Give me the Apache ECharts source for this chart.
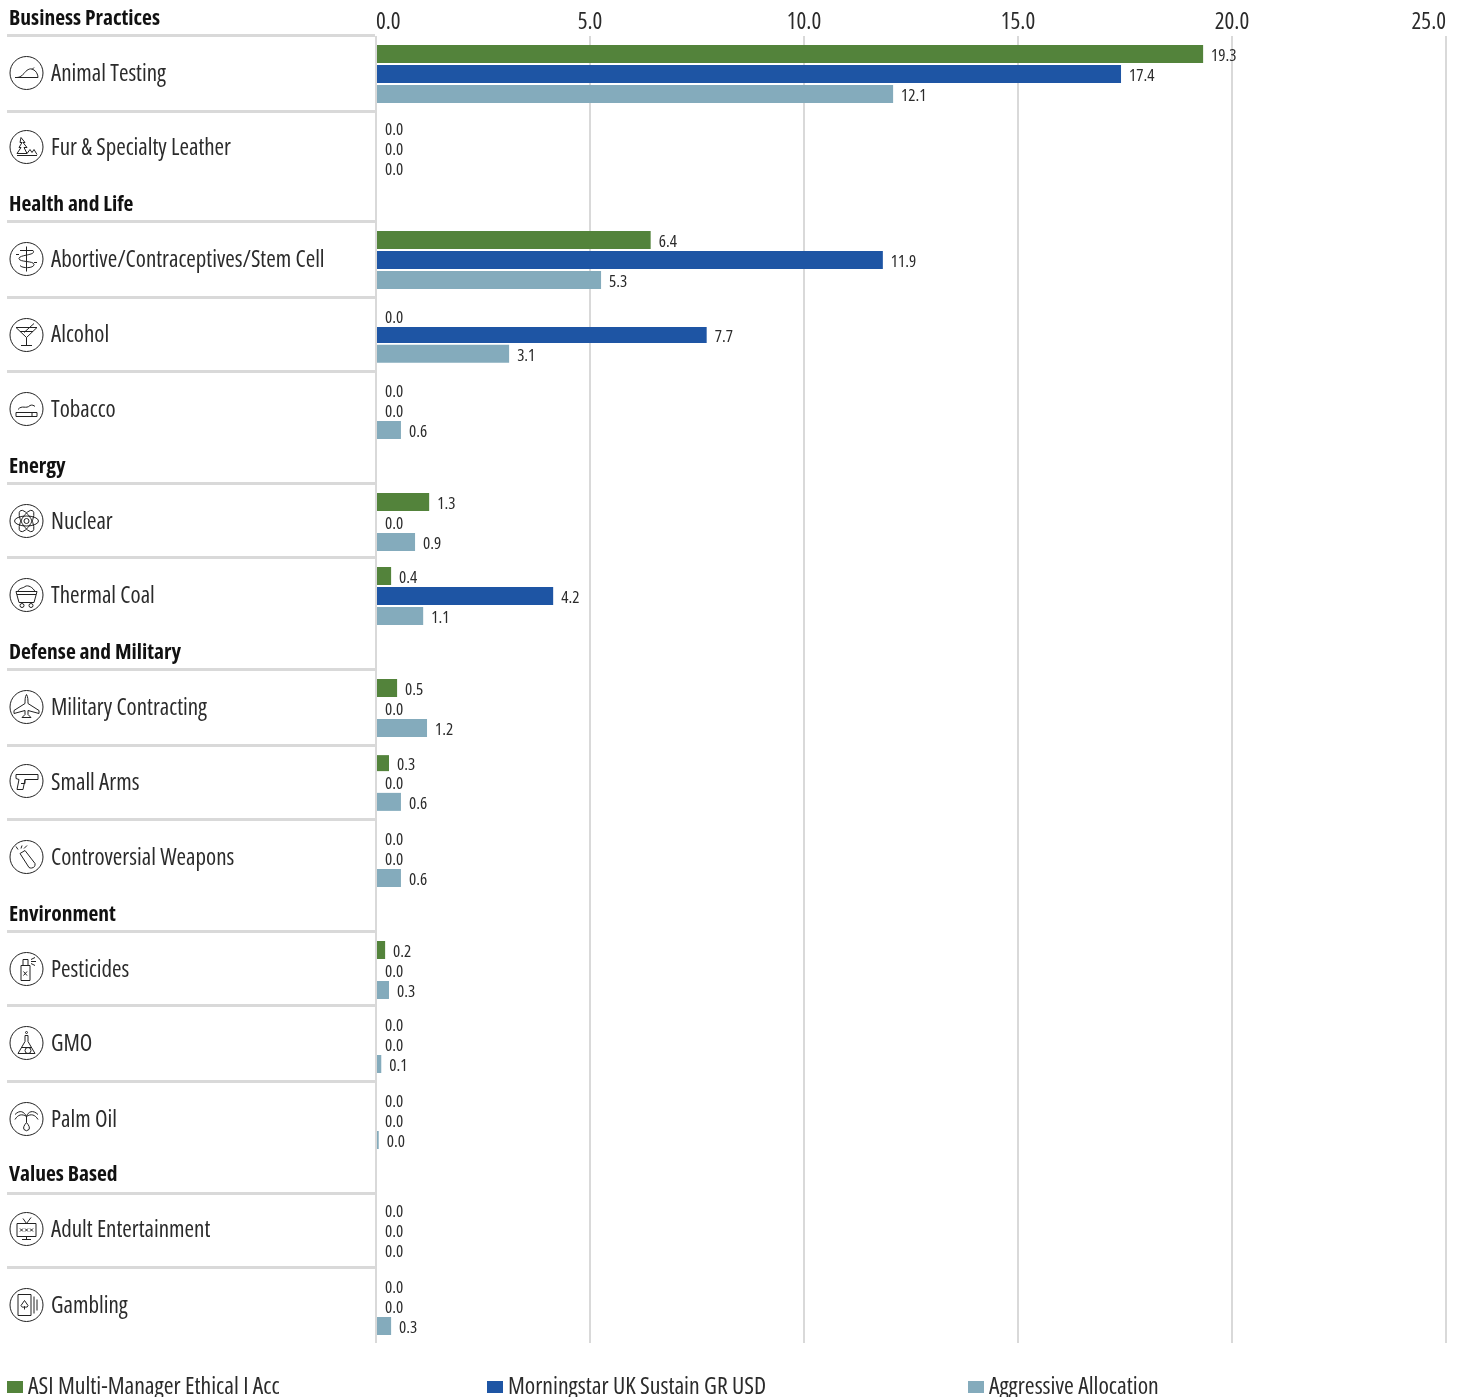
<!DOCTYPE html>
<html>
<head>
<meta charset="utf-8">
<style>html,body{margin:0;padding:0;background:#fff;overflow:hidden}#chart{width:1461px;height:1397px}</style>
<script src="https://cdn.jsdelivr.net/npm/echarts@6/dist/echarts.min.js"></script>
</head>
<body>
<div id="chart"></div>
<script>
const categories = ['Animal Testing','Fur & Specialty Leather','Abortive/Contraceptives/Stem Cell','Alcohol','Tobacco','Nuclear','Thermal Coal','Military Contracting','Small Arms','Controversial Weapons','Pesticides','GMO','Palm Oil','Adult Entertainment','Gambling'];
const seriesNames = ['ASI Multi-Manager Ethical I Acc','Morningstar UK Sustain GR USD','Aggressive Allocation'];
const asiValues = [19.32,0,6.4,0,0,1.22,0.33,0.47,0.28,0,0.19,0,0,0,0];
const morningstarValues = [17.4,0,11.83,7.71,0,0,4.12,0,0,0,0,0,0,0,0];
const aggressiveValues = [12.07,0,5.24,3.09,0.56,0.89,1.08,1.17,0.56,0.56,0.28,0.1,0.04,0,0.33];
const displayAsi = ['19.3','0.0','6.4','0.0','0.0','1.3','0.4','0.5','0.3','0.0','0.2','0.0','0.0','0.0','0.0'];
const displayMorningstar = ['17.4','0.0','11.9','7.7','0.0','0.0','4.2','0.0','0.0','0.0','0.0','0.0','0.0','0.0','0.0'];
const displayAggressive = ['12.1','0.0','5.3','3.1','0.6','0.9','1.1','1.2','0.6','0.6','0.3','0.1','0.0','0.0','0.3'];
const sectionTitles = ['Business Practices','Health and Life','Energy','Defense and Military','Environment','Values Based'];
const axisTicks = [0,5,10,15,20,25];

const FAMILY = '"Open Sans","Liberation Sans",sans-serif';
const COND = 'condensed';
const TEXT = '#2b2b2b';
const LINE = '#d9d9d9';
const colors = ['#53833b','#1e55a4','#84abbc'];
const values = [asiValues, morningstarValues, aggressiveValues];
const displays = [displayAsi, displayMorningstar, displayAggressive];

const barCenters = [74,148,260,335,410,522,596,708,783,858,970,1044,1120,1230,1306];
const labelCenters = [73,147,259,335,409,521,595,707,781,857,969,1043,1119,1229,1305];
const separators = [35.5,111.5,221.5,297.5,371.5,483.5,557.5,669.5,745.5,819.5,931.5,1005.5,1081.5,1193.5,1267.5];
const titleCenters = [18,204,466,652,914,1174];
const shortBars = {3:1, 8:0};

const C = 'M0 16.5A16.5 16.5 0 1 1 33 16.5A16.5 16.5 0 1 1 0 16.5Z';
const icons = [
 'M5 21H28M7 21C10 21 12 19 14 17C16 14 20 11 23 13C26 14 28 18 28 21M22 13L24 11',
 'M11 7L15 12H13L17 17H14L17 23H7L11 17H9L12 12H10ZM7 25H27M17 23L20 19L22 22L24 19L27 24',
 'M16.5 4V29M10 8H23M23 8C27 13 9 12 9 16C9 20 24 18 24 22C24 26 12 26 10 23M9 12H6M24 20H27',
 'M6 9H27L16.5 19ZM16.5 19V27M11 27H22M14 14L24 5M10 13H23',
 'M6 20H27V24H6ZM22 20V24M8 17C12 12 16 17 20 13C22 12 24 13 25 14',
 'M10.5 6.1A12 5 60 1 1 22.5 26.9A12 5 60 1 1 10.5 6.1M22.5 6.1A12 5 -60 1 1 10.5 26.9A12 5 -60 1 1 22.5 6.1M4.5 16.5A12 5 0 1 1 28.5 16.5A12 5 0 1 1 4.5 16.5M19 16.5A2.5 2.5 0 1 1 14 16.5A2.5 2.5 0 1 1 19 16.5',
 'M6 13H27L24 24H9ZM8 13C9 9 13 10 15 8C18 6 23 9 25 13M7 16H26M14 27A2 2 0 1 1 10 27A2 2 0 1 1 14 27M23 27A2 2 0 1 1 19 27A2 2 0 1 1 23 27',
 'M16.5 4C18 6 18 10 18 13L29 20V23L18 20V24L21 27H12L15 24V20L4 23V20L15 13C15 10 15 6 16.5 4Z',
 'M6 10H28V15H15L13 25H7L9 15L6 14ZM15 15V19H11',
 'M10 13L15 10L25 23A4 4 0 0 1 19 27ZM11 8L12 5M8 9L6 6M14 8L17 5',
 'M11 13H20V28H11ZM13 13V7H18V13M13.5 19L17 23M17 19L13.5 23M21 7L25 5M21 9L26 9M21 11L25 13',
 'M15 9H18M15 9V15L8 27H25L18 15V9M17.5 6A1 1 0 1 1 15.5 6A1 1 0 1 1 17.5 6M11 21H22M21 24A3 3 0 1 1 15 24A3 3 0 1 1 21 24',
 'M16.5 14V20M5 12C10 7 14 9 16.5 14C18 9 23 7 28 12M16.5 14C12 11 8 12 5 17M16.5 14C21 11 25 12 28 17M16.5 20C14 23 13 25 14 27A3.5 3.5 0 0 0 19 27C20 25 19 23 16.5 20Z',
 'M7 11H26V24H7ZM12 27H21M16.5 24V27M13 6L16.5 11L21 5M10 16L13 19M13 16L10 19M15 16L18 19M18 16L15 19M20 16L23 19M23 16L20 19',
 'M8 6H21V27H8ZM14.5 12L18 17A2 2 0 0 1 14.5 18A2 2 0 0 1 11 17ZM14.5 18V21M24 8V25M27 11V22'
];

const grids = [{left:376, width:1070, top:36, height:1307}];
const xAxes = [{
  gridIndex:0, type:'value', position:'top', min:0, max:25, interval:5,
  axisLine:{show:false}, axisTick:{show:false},
  splitLine:{show:true, lineStyle:{color:LINE, width:2}},
  axisLabel:{
    show:true, margin:2, color:TEXT, fontFamily:FAMILY, fontWeight:COND, fontSize:23,
    alignMinLabel:'left', alignMaxLabel:'right',
    formatter:v => axisTicks.includes(v) ? v.toFixed(1) : ''
  }
}];
const yAxes = [{gridIndex:0, type:'value', show:false, min:0, max:1}];
const series = [];

categories.forEach((name, i) => {
  const g = i + 1;
  const d = (barCenters[i] - labelCenters[i] - 1.5) * 2;
  grids.push({left:377, width:1069, top:barCenters[i]-30, height:60});
  xAxes.push({gridIndex:g, type:'value', show:false, min:0, max:25, interval:5, splitLine:{show:false}});
  yAxes.push({
    gridIndex:g, type:'category', inverse:true, data:[name],
    axisLine:{show:false}, axisTick:{show:false}, splitLine:{show:false},
    axisLabel:{
      show:true, align:'left', margin:326, color:TEXT, fontFamily:FAMILY, fontWeight:COND, fontSize:23,
      padding:[Math.max(0,-d),0,Math.max(0,d),0]
    }
  });
  seriesNames.forEach((s, k) => {
    series.push({
      type:'bar', name:s, xAxisIndex:g, yAxisIndex:g, data:[values[k][i]],
      barWidth:shortBars[i]===k ? 16 : 18, barGap:'11%', itemStyle:{color:colors[k]}, z:3, silent:true,
      label:{show:true, position:'right', distance:8, offset:[0,2.5], color:TEXT, fontFamily:FAMILY, fontWeight:COND, fontSize:17,
             formatter:() => displays[k][i]}
    });
  });
});

series.push({
  type:'custom', name:'icons', coordinateSystem:'none', silent:true, z:4,
  data:categories.map((_, i) => i),
  renderItem:(params, api) => {
    const i = api.value(0);
    return {
      type:'path', x:10, y:labelCenters[i]-16.5,
      shape:{pathData:C+icons[i], x:0, y:0, width:33, height:33, layout:'cover'},
      style:{fill:'none', stroke:'#222', lineWidth:1}
    };
  }
});

const graphic = [];
separators.forEach(y => graphic.push({
  type:'rect', silent:true, z:1, shape:{x:7, y:y-1.5, width:368, height:3}, style:{fill:LINE}
}));
sectionTitles.forEach((t, i) => graphic.push({
  type:'text', silent:true, x:9, y:titleCenters[i]+1,
  style:{text:t, fill:'#111', font:'bold condensed 21.5px '+FAMILY, textAlign:'left', textVerticalAlign:'middle'}
}));

const legendLeft = [7,487,968];
const legend = seriesNames.map((n, i) => ({
  data:[n], left:legendLeft[i], top:1375, padding:0, itemGap:0, itemWidth:16, itemHeight:12,
  icon:'rect', selectedMode:false,
  textStyle:{color:TEXT, fontFamily:FAMILY, fontWeight:COND, fontSize:23.7, padding:[4,0,0,0]}
}));

const chart = echarts.init(document.getElementById('chart'), null, {renderer:'canvas'});
chart.setOption({
  animation:false, backgroundColor:'#fff', tooltip:{show:false},
  grid:grids, xAxis:xAxes, yAxis:yAxes, series, graphic:{elements:graphic}, legend
});
</script>
</body>
</html>
